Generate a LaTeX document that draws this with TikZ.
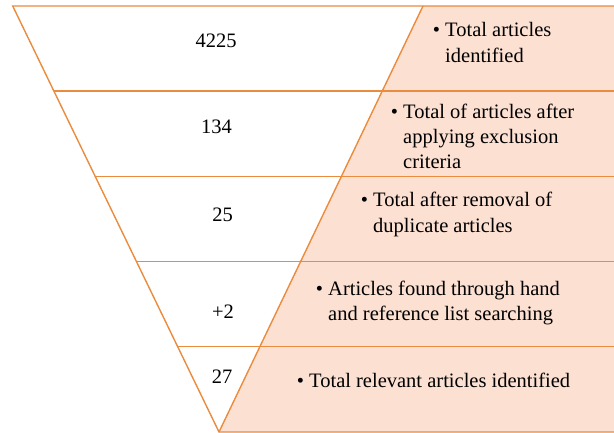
\documentclass[tikz,border=0pt]{standalone}
\usepackage{fontspec}
\setmainfont{Liberation Serif}
\usepackage{tikz}
\usetikzlibrary{calc}
\definecolor{funnelline}{RGB}{234,139,62}
\definecolor{funnelfill}{RGB}{252,224,210}
\tikzstyle{edge}=[draw=funnelline, line width=1.4pt]
\tikzstyle{count}=[inner sep=0pt, anchor=base, font=\fontsize{20.5}{25.5}\selectfont]
\tikzstyle{note}=[count, anchor=base west, align=left]
\newcommand{\bul}{\textbullet\ }
\newcommand{\nobul}{\phantom{\textbullet\ }}

\begin{document}
\begin{tikzpicture}[x=1pt, y=-1pt]
        \useasboundingbox (0,0) rectangle (614,433);
        \coordinate (TL) at (12.7, 6);
        \coordinate (TR) at (423, 6);
        \coordinate (TE) at (614, 6);
        \coordinate (BE) at (614, 432);
        \coordinate (apex) at (219, 432);
        \fill[funnelfill] (TR) -- (TE) -- (BE) -- (apex) -- cycle;
        \draw[edge] (TE) -- (TL) -- (apex) -- (BE);
        \draw[edge] (TR) -- (apex);
        \foreach \i in {1,...,4}
            \draw[edge] ($(TL)!\i/5!(apex)$) -- ($(TE)!\i/5!(BE)$);
        % counts
        \node[count] (identified) at (216, 48) {4225};
        \node[count] (excluded) at (216.5, 134) {134};
        \node[count] (deduped) at (222.5, 222) {25};
        \node[count] (handsearch) at (223, 318) {+2};
        \node[count] (relevant) at (222, 383) {27};
        % notes (base = last line)
        \node[note] (identifiedtxt) at (432.7, 62.5) {\bul Total articles\\\nobul identified};
        \node[note] (excludedtxt) at (390.7, 169) {\bul Total of articles after\\\nobul applying exclusion\\\nobul criteria};
        \node[note] (dedupedtxt) at (360.7, 232.5) {\bul Total after removal of\\\nobul duplicate articles};
        \node[note] (handsearchtxt) at (315.7, 320.5) {\bul Articles found through hand\\\nobul and reference list searching};
        \node[note] (relevanttxt) at (296.7, 387) {\bul Total relevant articles identified};
    \end{tikzpicture}
\end{document}
